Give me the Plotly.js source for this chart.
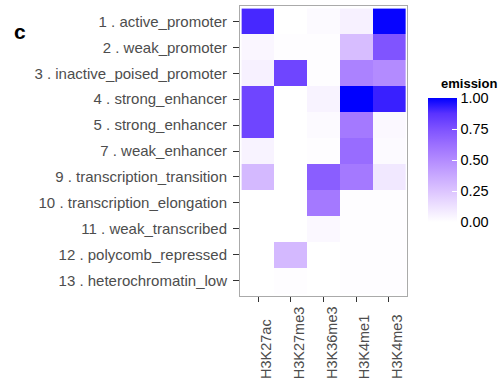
<!DOCTYPE html>
<html>
<head>
<meta charset="utf-8">
<script src="https://cdn.plot.ly/plotly-3.0.1.min.js"></script>
<style>html,body{margin:0;padding:0;background:#fff;}#chart{width:498px;height:385px;}</style>
</head>
<body>
<div id="chart"></div>
<script>
var states = [
  '1 . active_promoter',
  '2 . weak_promoter',
  '3 . inactive_poised_promoter',
  '4 . strong_enhancer',
  '5 . strong_enhancer',
  '7 . weak_enhancer',
  '9 . transcription_transition',
  '10 . transcription_elongation',
  '11 . weak_transcribed',
  '12 . polycomb_repressed',
  '13 . heterochromatin_low'
];
var marks = ['H3K27ac', 'H3K27me3', 'H3K36me3', 'H3K4me1', 'H3K4me3'];
// rows = states, columns = marks
var emission = [
  [0.90, 0.00, 0.02, 0.06, 0.99],
  [0.04, 0.01, 0.01, 0.28, 0.74],
  [0.06, 0.80, 0.01, 0.54, 0.50],
  [0.80, 0.00, 0.05, 1.00, 0.92],
  [0.80, 0.00, 0.02, 0.58, 0.03],
  [0.05, 0.00, 0.01, 0.64, 0.02],
  [0.30, 0.00, 0.70, 0.58, 0.10],
  [0.00, 0.00, 0.58, 0.01, 0.01],
  [0.00, 0.00, 0.03, 0.01, 0.01],
  [0.00, 0.30, 0.00, 0.01, 0.01],
  [0.00, 0.01, 0.00, 0.01, 0.01]
];
var legendTicks = [0, 0.25, 0.5, 0.75, 1];

var W = 498, H = 385;
var L = 240, R = 407, T = 6, B = 296;
var pw = R - L, ph = B - T;
function px2x(p){ return (p - L) / pw; }
function px2y(p){ return 1 - (p - T) / ph; }
var FONT = 'Liberation Sans, Arial, sans-serif';

var colorscale = [
  [0, 'rgb(255,255,255)'],
  [0.125, 'rgb(238,226,255)'],
  [0.25, 'rgb(220,196,255)'],
  [0.375, 'rgb(200,168,255)'],
  [0.5, 'rgb(179,139,255)'],
  [0.625, 'rgb(155,111,255)'],
  [0.75, 'rgb(126,82,255)'],
  [0.875, 'rgb(89,50,255)'],
  [1, 'rgb(0,0,255)']
];

var trace = {
  type: 'heatmap',
  x: marks,
  y: states,
  z: emission,
  zmin: 0, zmax: 1,
  colorscale: colorscale,
  hoverinfo: 'skip',
  colorbar: {
    tickvals: legendTicks,
    tickformat: '.2f',
    ticks: 'inside',
    ticklen: 5,
    tickcolor: '#fff',
    ticklabelstandoff: 2,
    tickfont: {size: 14.5, color: '#000', family: FONT},
    thickness: 29, thicknessmode: 'pixels',
    len: 124, lenmode: 'pixels',
    xref: 'container', x: 428 / W, xanchor: 'left', xpad: 0,
    yref: 'paper', y: 0.468, yanchor: 'middle', ypad: 0,
    outlinewidth: 0
  }
};

var annotations = marks.map(function(m){
  return {
    x: m, xref: 'x', xanchor: 'left', xshift: -2,
    y: px2y(381), yref: 'paper', yanchor: 'bottom',
    text: m, textangle: -90, showarrow: false,
    font: {size: 14.5, color: '#4D4D4D', family: FONT}
  };
});
annotations.push({
  x: px2x(12), xref: 'paper', xanchor: 'left',
  y: px2y(31), yref: 'paper', yanchor: 'middle',
  text: '<b>c</b>', showarrow: false,
  font: {size: 21, color: '#000', family: FONT}
});
annotations.push({
  x: px2x(439), xref: 'paper', xanchor: 'left',
  y: px2y(83), yref: 'paper', yanchor: 'middle',
  text: '<b>emission</b>', showarrow: false,
  font: {size: 13, color: '#000', family: FONT}
});

var layout = {
  width: W, height: H,
  margin: {l: L, r: W - R, t: T, b: H - B, pad: 0},
  paper_bgcolor: '#fff', plot_bgcolor: '#fff',
  font: {family: FONT, color: '#4D4D4D', size: 15},
  xaxis: {
    type: 'category', range: [-0.55, 4.55],
    showgrid: false, zeroline: false, showticklabels: false,
    ticks: 'outside', ticklen: 5, tickcolor: '#333', tickwidth: 1,
    showline: true, mirror: true, linecolor: '#AAAAAA', linewidth: 1
  },
  yaxis: {
    type: 'category', range: [10.6, -0.6],
    showgrid: false, zeroline: false,
    ticks: 'outside', ticklen: 6, tickcolor: '#333', tickwidth: 1,
    ticklabelstandoff: 3,
    tickfont: {size: 15, color: '#4D4D4D', family: FONT},
    showline: true, mirror: true, linecolor: '#AAAAAA', linewidth: 1
  },
  annotations: annotations
};

Plotly.newPlot('chart', [trace], layout, {displayModeBar: false, staticPlot: true});
</script>
</body>
</html>
